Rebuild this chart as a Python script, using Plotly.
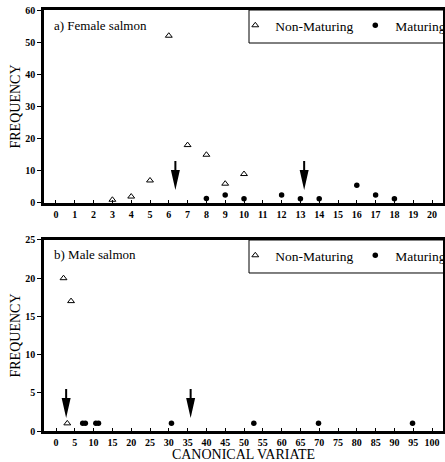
import plotly.graph_objects as go

# ---------------- data ----------------
fem_nonmat_x = [3, 4, 5, 6, 7, 8, 9, 10]
fem_nonmat_y = [1, 2, 7, 52, 18, 15, 6, 9]
fem_mat_x = [8, 9, 10, 12, 13, 14, 16, 17, 18]
fem_mat_y = [1.4, 2.5, 1.3, 2.5, 1.3, 1.3, 5.5, 2.5, 1.3]

male_nonmat_x = [2, 3, 4]
male_nonmat_y = [20, 1, 17]
male_mat_x = [7.1, 7.8, 10.6, 11.3, 30.7, 52.6, 69.8, 94.8]
male_mat_y = [1, 1, 1, 1, 1, 1, 1, 1]

fem_arrow_x = [6.35, 13.2]
fem_arrow_tip = 4.0
male_arrow_x = [2.7, 35.8]
male_arrow_tip = 1.7

fem_xticks = list(range(0, 21))
male_xticks = list(range(0, 101, 5))
fem_yticks = [0, 10, 20, 30, 40, 50, 60]
male_yticks = [0, 5, 10, 15, 20, 25]

FONT = "Liberation Serif"

fig = go.Figure()

tri = dict(symbol="triangle-up-open", size=6, color="black", line=dict(width=1, color="black"))
dot = dict(symbol="circle", size=5.5, color="black")

fig.add_trace(go.Scatter(x=fem_nonmat_x, y=fem_nonmat_y, mode="markers", marker=tri,
                         name="Non-Maturing", xaxis="x", yaxis="y", legend="legend"))
fig.add_trace(go.Scatter(x=fem_mat_x, y=fem_mat_y, mode="markers", marker=dot,
                         name="Maturing", xaxis="x", yaxis="y", legend="legend"))
fig.add_trace(go.Scatter(x=male_nonmat_x, y=male_nonmat_y, mode="markers", marker=tri,
                         name="Non-Maturing", xaxis="x2", yaxis="y2", legend="legend2"))
fig.add_trace(go.Scatter(x=male_mat_x, y=male_mat_y, mode="markers", marker=dot,
                         name="Maturing", xaxis="x2", yaxis="y2", legend="legend2"))

# arrows: pixel-sized path anchored at data positions
arrow_path = "M0,0 L-4.5,20 L-1,20 L-1,29 L1,29 L1,20 L4.5,20 Z"
for ax_x in fem_arrow_x:
    fig.add_shape(type="path", xref="x", yref="y", xsizemode="pixel", ysizemode="pixel",
                  xanchor=ax_x, yanchor=fem_arrow_tip, path=arrow_path,
                  fillcolor="black", line=dict(width=0))
for ax_x in male_arrow_x:
    fig.add_shape(type="path", xref="x2", yref="y2", xsizemode="pixel", ysizemode="pixel",
                  xanchor=ax_x, yanchor=male_arrow_tip, path=arrow_path,
                  fillcolor="black", line=dict(width=0))

# legend boxes
TOP_DOM = [0.5416, 1.0]
BOT_DOM = [0.0, 0.4537]
for dom in (TOP_DOM, BOT_DOM):
    fig.add_shape(type="rect", xref="paper", yref="paper",
                  x0=0.5138, x1=1.02, y0=dom[1] - 0.0784, y1=dom[1],
                  line=dict(color="black", width=1), fillcolor="rgba(0,0,0,0)")

tickfont = dict(family=FONT, size=10, color="black", weight="bold")

xcommon = dict(showline=True, linecolor="black", linewidth=3, mirror=True,
               ticks="inside", ticklen=3, tickcolor="black", tickwidth=1,
               tickfont=tickfont, showgrid=False, zeroline=False)
ycommon = dict(showline=True, linecolor="black", linewidth=2.5, mirror=True,
               ticks="outside", ticklen=4, tickcolor="black", tickwidth=1,
               tickfont=tickfont, showgrid=False, zeroline=False)

legend_common = dict(orientation="h", x=0.5145, xanchor="left", yanchor="top",
                     bgcolor="rgba(0,0,0,0)", borderwidth=0, indentation=-14,
                     font=dict(family=FONT, size=13.5), entrywidth=89)

fig.update_layout(
    width=445, height=462,
    margin=dict(l=44, r=2, t=10, b=31, autoexpand=False),
    paper_bgcolor="white", plot_bgcolor="white",
    font=dict(family=FONT, color="black"),
    xaxis=dict(domain=[0, 1], anchor="y", range=[-0.638, 20.585],
               tickvals=fem_xticks, **xcommon),
    yaxis=dict(domain=TOP_DOM, anchor="x", range=[0, 60], tickvals=fem_yticks,
               title=dict(text="FREQUENCY", font=dict(family=FONT, size=14), standoff=2),
               **ycommon),
    xaxis2=dict(domain=[0, 1], anchor="y2", range=[-3.19, 102.9],
                tickvals=male_xticks,
                title=dict(text="CANONICAL VARIATE", font=dict(family=FONT, size=14), standoff=8),
                **xcommon),
    yaxis2=dict(domain=BOT_DOM, anchor="x2", range=[0, 25], tickvals=male_yticks,
                title=dict(text="FREQUENCY", font=dict(family=FONT, size=14), standoff=2),
                **ycommon),
    legend=dict(y=1.0, **legend_common),
    legend2=dict(y=BOT_DOM[1], **legend_common),
    annotations=[
        dict(text="a) Female salmon", xref="paper", yref="paper", x=0.02, y=0.962,
             xanchor="left", yanchor="middle", showarrow=False,
             font=dict(family=FONT, size=13)),
        dict(text="b) Male salmon", xref="paper", yref="paper", x=0.02, y=BOT_DOM[1] - 0.035,
             xanchor="left", yanchor="middle", showarrow=False,
             font=dict(family=FONT, size=13)),
    ],
)

fig.write_html("out.html", config={"displayModeBar": False},
               post_script="document.body.style.margin='0';document.body.style.overflow='hidden';")
